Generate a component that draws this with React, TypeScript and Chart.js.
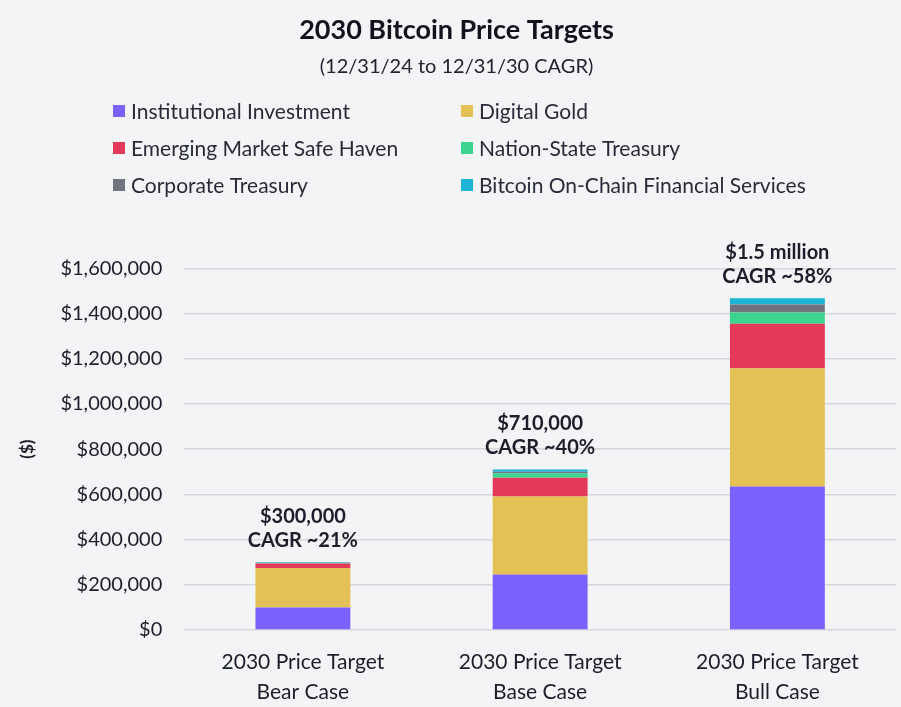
import React, { useEffect, useRef } from "react";
import { Chart, registerables } from "chart.js";

Chart.register(...registerables);

const categories: string[][] = [
  ["2030 Price Target", "Bear Case"],
  ["2030 Price Target", "Base Case"],
  ["2030 Price Target", "Bull Case"],
];

const institutional = [99000, 245000, 635000];
const digitalGold = [175000, 345000, 523000];
const emergingMarket = [20000, 83000, 197000];
const nationState = [2000, 20000, 50000];
const corporate = [1000, 7000, 35000];
const onChain = [3000, 10000, 28000];

const priceLabels = ["$300,000", "$710,000", "$1.5 million"];
const cagrLabels = ["CAGR ~21%", "CAGR ~40%", "CAGR ~58%"];

const seriesNames = [
  "Institutional Investment",
  "Digital Gold",
  "Emerging Market Safe Haven",
  "Nation-State Treasury",
  "Corporate Treasury",
  "Bitcoin On-Chain Financial Services",
];
const seriesColors = ["#7B62FE", "#E3C155", "#E4395B", "#3AD48F", "#70737E", "#1DB4D6"];

const FONT = "Lato, 'Open Sans', sans-serif";
const TEXT = "#1d1d2b";

const legendPlugin = {
  id: "gridLegend",
  afterDraw(chart: any) {
    const ctx = chart.ctx;
    ctx.save();
    ctx.font = `21px ${FONT}`;
    ctx.textBaseline = "middle";
    ctx.textAlign = "left";
    chart.data.datasets.forEach((ds: any, i: number) => {
      const col = i % 2;
      const row = Math.floor(i / 2);
      const x = col === 0 ? 113 : 461;
      const y = 111 + row * 37;
      ctx.fillStyle = ds.backgroundColor;
      ctx.fillRect(x, y - 6, 12, 12);
      ctx.fillStyle = "#2a2a38";
      ctx.fillText(ds.label, x + 18, y + 1);
    });
    ctx.restore();
  },
};

const topLabelPlugin = {
  id: "topLabels",
  afterDatasetsDraw(chart: any) {
    const ctx = chart.ctx;
    const last = chart.getDatasetMeta(chart.data.datasets.length - 1);
    ctx.save();
    ctx.font = `bold 20px ${FONT}`;
    ctx.fillStyle = TEXT;
    ctx.textAlign = "center";
    ctx.textBaseline = "middle";
    last.data.forEach((bar: any, i: number) => {
      ctx.fillText(priceLabels[i], bar.x, bar.y - 46);
      ctx.fillText(cagrLabels[i], bar.x, bar.y - 22);
    });
    ctx.restore();
  },
};

export default function App() {
  const ref = useRef<HTMLCanvasElement | null>(null);

  useEffect(() => {
    document.body.style.margin = "0";
    document.body.style.background = "#F3F4F6";
    const values = [institutional, digitalGold, emergingMarket, nationState, corporate, onChain];
    const chart = new Chart(ref.current as HTMLCanvasElement, {
      type: "bar",
      data: {
        labels: categories,
        datasets: values.map((v, i) => ({
          label: seriesNames[i],
          data: v,
          backgroundColor: seriesColors[i],
          borderWidth: 0,
          barPercentage: 0.4,
          categoryPercentage: 1,
        })),
      },
      options: {
        animation: false,
        responsive: false,
        maintainAspectRatio: false,
        layout: { padding: { left: 17, right: 5, top: 0, bottom: -9 } },
        plugins: {
          legend: { display: false },
          tooltip: { enabled: false },
          title: {
            display: true,
            text: "2030 Bitcoin Price Targets",
            color: "#12121f",
            font: { family: FONT, size: 27, weight: "bold" },
            padding: { top: 14, bottom: 7 },
          },
          subtitle: {
            display: true,
            text: "(12/31/24 to 12/31/30 CAGR)",
            color: "#222230",
            font: { family: FONT, size: 20 },
            padding: { top: 1, bottom: 190 },
          },
        },
        scales: {
          x: {
            stacked: true,
            grid: { display: false },
            border: { display: false },
            ticks: {
              color: TEXT,
              font: { family: FONT, size: 21, lineHeight: 1.43 },
              padding: 9,
              maxRotation: 0,
            },
          },
          y: {
            stacked: true,
            min: 0,
            max: 1600000,
            grid: { color: "#D6D7DA", lineWidth: 1.5, drawTicks: false },
            border: { display: false },
            ticks: {
              stepSize: 200000,
              color: TEXT,
              padding: 22,
              font: { family: FONT, size: 20 },
              callback: (v: any) => "$" + Number(v).toLocaleString("en-US"),
            },
            title: {
              display: true,
              text: "($)",
              color: TEXT,
              font: { family: FONT, size: 17, weight: "bold" },
              padding: { top: 0, bottom: 1 },
            },
          },
        },
      },
      plugins: [legendPlugin, topLabelPlugin],
    });
    return () => chart.destroy();
  }, []);

  return (
    <div style={{ width: 901, height: 707, background: "#F3F4F6" }}>
      <canvas ref={ref} width={901} height={707} style={{ display: "block" }} />
    </div>
  );
}
